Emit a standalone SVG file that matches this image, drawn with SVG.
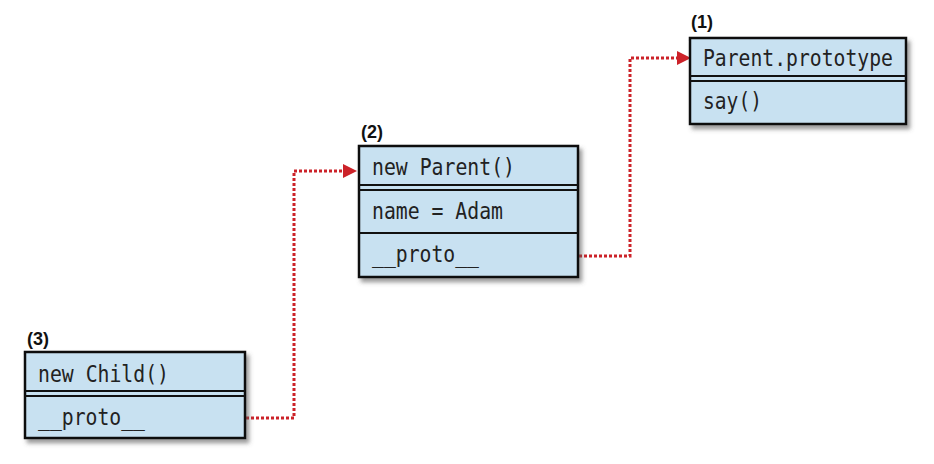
<svg xmlns="http://www.w3.org/2000/svg" width="934" height="464" viewBox="0 0 934 464">
<style>
.box{fill:#c8e1f1;stroke:#111;stroke-width:2.5}
.sep{stroke:#111;stroke-width:2.2;fill:none}
.t{font-family:"DejaVu Sans Mono","Liberation Mono",monospace;font-size:23px;fill:#222}
.lbl{font-family:"Liberation Sans",Arial,sans-serif;font-weight:bold;font-size:18px;fill:#111}
.conn{fill:none;stroke:#cc2229;stroke-width:3;stroke-dasharray:3 2}
.ah{fill:#cc2229}
</style>
<defs>
<filter id="sh" x="-10%" y="-10%" width="130%" height="130%">
<feDropShadow dx="3" dy="4" stdDeviation="2" flood-color="#555" flood-opacity="0.6"/>
</filter>
</defs>
<g id="connectors">
<path class="conn" d="M246,418 H294 V171 H343"/>
<path class="conn" d="M579,256 H630 V58 H677"/>
<path class="ah" d="M343,164 L357,171 L343,178 Z"/>
<path class="ah" d="M677,51 L691,58 L677,65 Z"/>
</g>
<g id="node1">
<text class="lbl" x="691" y="28">(1)</text>
<rect class="box" x="690" y="38" width="216" height="86" filter="url(#sh)"/>
<line class="sep" x1="690" y1="76" x2="906" y2="76"/>
<line class="sep" x1="690" y1="81" x2="906" y2="81"/>
<text class="t" x="703" y="66" textLength="190" lengthAdjust="spacingAndGlyphs">Parent.prototype</text>
<text class="t" x="703" y="109" textLength="59" lengthAdjust="spacingAndGlyphs">say()</text>
</g>
<g id="node2">
<text class="lbl" x="361" y="138">(2)</text>
<rect class="box" x="359" y="146" width="219" height="131" filter="url(#sh)"/>
<line class="sep" x1="359" y1="185" x2="578" y2="185"/>
<line class="sep" x1="359" y1="190" x2="578" y2="190"/>
<line class="sep" x1="359" y1="233" x2="578" y2="233"/>
<text class="t" x="372" y="175" textLength="143" lengthAdjust="spacingAndGlyphs">new Parent()</text>
<text class="t" x="372" y="219" textLength="131" lengthAdjust="spacingAndGlyphs">name = Adam</text>
<text class="t" x="372" y="262" textLength="107" lengthAdjust="spacingAndGlyphs">__proto__</text>
</g>
<g id="node3">
<text class="lbl" x="27" y="345">(3)</text>
<rect class="box" x="25" y="352" width="220" height="86" filter="url(#sh)"/>
<line class="sep" x1="25" y1="391" x2="245" y2="391"/>
<line class="sep" x1="25" y1="396" x2="245" y2="396"/>
<text class="t" x="38" y="382" textLength="131" lengthAdjust="spacingAndGlyphs">new Child()</text>
<text class="t" x="38" y="425" textLength="107" lengthAdjust="spacingAndGlyphs">__proto__</text>
</g>
</svg>
